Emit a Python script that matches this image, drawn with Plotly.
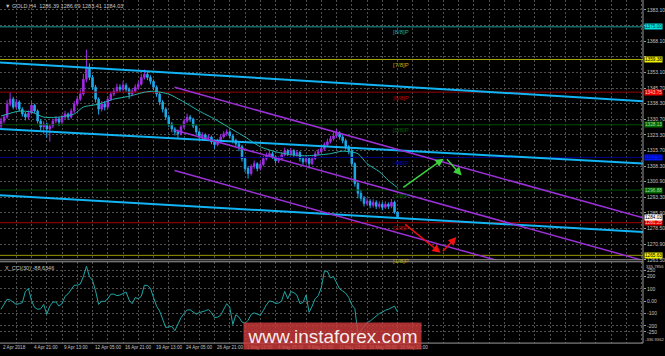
import plotly.graph_objects as go

# ---------------- data ----------------
bars = list(range(131))
opens = [1327.5, 1329.9, 1331.8, 1338.0, 1340.4, 1336.6, 1339.0, 1335.6, 1333.3, 1331.8,
 1333.7, 1337.5, 1334.7, 1329.9, 1327.1, 1328.5, 1326.1, 1327.5, 1329.9, 1330.9,
 1329.4, 1331.8, 1333.3, 1331.8, 1334.7, 1338.0, 1340.4, 1342.8, 1349.9, 1355.6,
 1350.8, 1346.1, 1340.4, 1335.6, 1338.0, 1336.6, 1340.4, 1342.8, 1344.2, 1346.1,
 1345.1, 1347.0, 1345.1, 1342.8, 1344.2, 1346.1, 1347.5, 1350.8, 1352.3, 1350.8,
 1348.9, 1346.1, 1342.8, 1339.0, 1335.6, 1331.8, 1328.5, 1326.1, 1324.7, 1323.8,
 1327.1, 1329.9, 1331.8, 1330.9, 1327.5, 1324.7, 1322.3, 1323.3, 1321.9, 1322.3,
 1320.0, 1318.6, 1320.5, 1322.3, 1323.8, 1324.7, 1322.8, 1320.5, 1319.0, 1317.6,
 1311.9, 1307.2, 1304.8, 1308.1, 1309.5, 1307.2, 1309.1, 1311.9, 1313.3, 1314.3,
 1312.8, 1310.9, 1311.9, 1313.8, 1315.7, 1314.3, 1315.7, 1313.8, 1314.8, 1311.9,
 1310.4, 1311.9, 1309.5, 1311.9, 1314.3, 1315.2, 1316.7, 1318.6, 1320.0, 1321.4,
 1322.8, 1324.3, 1322.3, 1320.5, 1317.6, 1315.7, 1309.5, 1300.0, 1295.3, 1292.9,
 1290.5, 1291.5, 1289.6, 1291.0, 1289.1, 1290.1, 1288.6, 1290.1, 1289.1, 1291.0,
 1286.39]
highs = [1331.5, 1333.0, 1340.0, 1343.7, 1341.5, 1340.5, 1339.8, 1336.5, 1334.2, 1335.0,
 1339.3, 1338.2, 1335.5, 1330.8, 1329.8, 1329.2, 1328.6, 1331.0, 1332.2, 1331.8,
 1333.0, 1334.8, 1334.0, 1336.0, 1339.5, 1342.0, 1345.0, 1352.5, 1364.1, 1357.5,
 1352.0, 1347.2, 1341.2, 1339.5, 1339.4, 1341.8, 1344.0, 1345.8, 1347.8, 1347.5,
 1348.8, 1348.0, 1346.0, 1345.5, 1347.5, 1349.0, 1352.5, 1354.6, 1353.5, 1351.8,
 1349.8, 1347.0, 1343.8, 1340.0, 1336.5, 1332.8, 1329.5, 1327.0, 1325.8, 1328.2,
 1331.0, 1333.5, 1332.8, 1331.5, 1328.3, 1325.5, 1324.5, 1324.0, 1323.5, 1323.0,
 1321.0, 1321.5, 1323.5, 1325.0, 1326.0, 1325.5, 1323.5, 1321.5, 1320.0, 1318.5,
 1312.8, 1308.2, 1309.2, 1311.0, 1310.2, 1310.5, 1313.2, 1314.8, 1315.8, 1315.2,
 1313.5, 1313.0, 1315.0, 1317.2, 1316.5, 1317.0, 1316.5, 1316.0, 1315.5, 1312.8,
 1313.0, 1312.5, 1313.0, 1315.5, 1316.5, 1318.0, 1319.8, 1321.5, 1322.8, 1324.5,
 1326.1, 1325.0, 1323.2, 1321.5, 1318.5, 1316.5, 1310.2, 1301.0, 1297.0, 1294.0,
 1293.0, 1292.5, 1292.5, 1292.0, 1291.5, 1291.2, 1291.5, 1291.0, 1292.6, 1291.8,
 1286.69]
lows = [1326.0, 1328.8, 1331.0, 1337.0, 1335.5, 1335.8, 1334.5, 1332.0, 1330.2, 1330.8,
 1333.0, 1333.8, 1328.8, 1325.5, 1323.8, 1322.0, 1320.0, 1326.5, 1328.8, 1327.5,
 1328.5, 1330.8, 1330.5, 1331.0, 1333.8, 1337.0, 1339.5, 1342.0, 1348.5, 1349.5,
 1344.8, 1338.8, 1333.0, 1334.5, 1335.0, 1335.8, 1339.5, 1341.8, 1343.2, 1343.8,
 1344.0, 1343.8, 1340.5, 1341.8, 1343.5, 1345.0, 1346.8, 1349.8, 1349.5, 1347.5,
 1344.8, 1341.5, 1337.5, 1334.0, 1330.5, 1327.0, 1324.5, 1323.0, 1321.4, 1323.0,
 1326.2, 1329.0, 1329.5, 1326.5, 1323.5, 1321.0, 1321.2, 1320.8, 1320.5, 1318.8,
 1316.7, 1317.8, 1319.5, 1321.5, 1322.8, 1321.5, 1319.2, 1317.8, 1315.5, 1310.5,
 1305.5, 1302.4, 1303.8, 1307.0, 1305.8, 1306.2, 1308.2, 1311.0, 1312.5, 1311.8,
 1309.5, 1309.8, 1311.0, 1313.0, 1313.2, 1313.5, 1312.8, 1312.8, 1310.5, 1309.0,
 1309.5, 1307.2, 1308.8, 1311.2, 1313.5, 1314.5, 1315.8, 1317.8, 1319.2, 1320.5,
 1321.8, 1321.0, 1319.2, 1316.2, 1314.0, 1308.0, 1298.5, 1292.9, 1291.5, 1289.0,
 1289.5, 1288.2, 1288.5, 1287.8, 1288.0, 1287.2, 1287.8, 1287.8, 1288.2, 1285.5,
 1283.41]
closes = [1329.9, 1331.8, 1338.0, 1340.4, 1336.6, 1339.0, 1335.6, 1333.3, 1331.8, 1333.7,
 1337.5, 1334.7, 1329.9, 1327.1, 1328.5, 1326.1, 1327.5, 1329.9, 1330.9, 1329.4,
 1331.8, 1333.3, 1331.8, 1334.7, 1338.0, 1340.4, 1342.8, 1349.9, 1355.6, 1350.8,
 1346.1, 1340.4, 1335.6, 1338.0, 1336.6, 1340.4, 1342.8, 1344.2, 1346.1, 1345.1,
 1347.0, 1345.1, 1342.8, 1344.2, 1346.1, 1347.5, 1350.8, 1352.3, 1350.8, 1348.9,
 1346.1, 1342.8, 1339.0, 1335.6, 1331.8, 1328.5, 1326.1, 1324.7, 1323.8, 1327.1,
 1329.9, 1331.8, 1330.9, 1327.5, 1324.7, 1322.3, 1323.3, 1321.9, 1322.3, 1320.0,
 1318.6, 1320.5, 1322.3, 1323.8, 1324.7, 1322.8, 1320.5, 1319.0, 1317.6, 1311.9,
 1307.2, 1304.8, 1308.1, 1309.5, 1307.2, 1309.1, 1311.9, 1313.3, 1314.3, 1312.8,
 1310.9, 1311.9, 1313.8, 1315.7, 1314.3, 1315.7, 1313.8, 1314.8, 1311.9, 1310.4,
 1311.9, 1309.5, 1311.9, 1314.3, 1315.2, 1316.7, 1318.6, 1320.0, 1321.4, 1322.8,
 1324.3, 1322.3, 1320.5, 1317.6, 1315.7, 1309.5, 1300.0, 1295.3, 1292.9, 1290.5,
 1291.5, 1289.6, 1291.0, 1289.1, 1290.1, 1288.6, 1290.1, 1289.1, 1291.0, 1286.4,
 1284.03]

ma_bars = [0, 6, 10, 14, 19, 24, 27, 32, 37, 42, 47, 50, 55, 60, 65, 70, 75, 80, 85, 90,
           95, 100, 105, 108, 112, 117, 120, 124, 127, 130]
ma_vals = [1332.3, 1334.7, 1334.2, 1331.8, 1331.8, 1333.3, 1336.6, 1338.0, 1340.4, 1341.8,
           1343.7, 1344.2, 1342.8, 1339.0, 1334.7, 1330.9, 1326.6, 1322.3, 1317.6, 1315.2,
           1313.8, 1313.3, 1313.8, 1314.3, 1315.5, 1314.3, 1309.5, 1305.7, 1301.5, 1298.0]

cci_vals = [-66, -20, 15, 10, -5, -26, -20, -12, 80, 103,
 5, -50, -66, -62, -26, -106, -40, -8, -6, -40,
 -20, 40, 60, 100, 130, 130, 140, 200, 284, 200,
 170, 85, -26, 0, -2, 20, 57, 58, 45, 50,
 65, 75, 10, -20, 30, 20, 40, 130, 128, 105,
 30, -40, -80, -150, -214, -210, -205, -240, -180, -135,
 -100, -72, -70, -85, -106, -93, -88, -78, -68, -95,
 -133, -130, -115, -70, -20, -50, -190, -110, -130, -170,
 -180, -155, -108, -95, -105, -115, -75, -30, 2, -3,
 -18, -15, 2, 80, 20, 78, 70, 50, -20, -10,
 50, -90, -40, 20, 45, 110, 244, 244, 190, 200,
 150, 100, 84, 65, 30, -30, -60, -268, -235, -205,
 -173, -162, -140, -118, -100, -90, -74, -66, -55, -40,
 -88.6346]

time_label_bars = [0, 10, 20, 30, 40, 50, 60, 70, 80, 90, 100, 110, 120, 130]
time_labels = ["2 Apr 2018", "4 Apr 21:00", "9 Apr 13:00", "12 Apr 05:00", "16 Apr 21:00",
               "19 Apr 13:00", "24 Apr 05:00", "26 Apr 21:00", "1 May 13:00", "4 May 05:00",
               "8 May 21:00", "11 May 13:00", "16 May 05:00", "18 May 21:00"]

price_ticks = [1383.10, 1375.70, 1368.10, 1360.70, 1353.10, 1345.70, 1338.30, 1330.70, 1323.30,
               1315.70, 1308.30, 1300.90, 1293.30, 1285.90, 1278.50, 1270.90, 1263.50]
# labels of 1375.70 and 1360.70 are hidden under the level boxes in the reference
price_tick_text = ["1383.10", "", "1368.10", "", "1353.10", "1345.70", "1338.30", "1330.70", "1323.30",
                   "1315.70", "1308.30", "1300.90", "1293.30", "1285.90", "1278.50", "1270.90", "1263.50"]
cci_ticks = [250, 200, 100, 0, -100, -200, -250]
cci_tick_text = ["250", "200", "100", "0.00", "-100", "-200", "-250"]
cci_max_label = "335.7856"
cci_min_label = "-336.9362"

mm_names = ["[8/8]P", "[7/8]P", "[6/8]P", "[5/8]P", "[4/8]P", "[3/8]P", "[2/8]P", "[1/8]P"]
mm_prices = [1375.00, 1359.38, 1343.75, 1328.13, 1312.50, 1296.88, 1281.25, 1265.63]
bid_price = 1284.03

# drawn objects (bar index, price)
blue_x0 = [-0.33, -0.33, -0.33]
blue_p0 = [1357.95, 1326.15, 1294.35]
blue_x1 = [210.46, 210.46, 210.46]
blue_p1 = [1339.44, 1309.54, 1276.79]
purple_x0 = [56.9, 56.9, 56.9]
purple_p0 = [1346.08, 1325.67, 1306.21]
purple_x1 = [210.46, 210.46, 210.46]
purple_p1 = [1283.62, 1263.2, 1243.76]
green_arrows = [(131.4, 1297.67, 145.1, 1311.9), (145.75, 1312.38, 151.0, 1303.84)]
red_arrows = [(132.0, 1281.06, 144.1, 1266.82), (144.4, 1266.82, 149.3, 1274.42)]

# ---------------- style ----------------
W, H = 665, 356
PLOT_W = 645
PX = 3.06
X_LO, X_HI = -1 / PX, (PLOT_W - 1) / PX
BG = "#000000"
GRID = "#4f4f4f"
TXT = "#c4c4c4"
FONT = "Liberation Sans, Arial"
VIOLET = "#A12BE6"
CYAN = "#1EAAEB"
BLUE_LINE = "#12B4F4"
PURPLE = "#9B30D8"
mm_line_colors = ["#1C9C9C", "#A8A800", "#9A0000", "#004E00", "#00008C", "#004E00", "#A80000", "#9A9A00"]
mm_text_colors = ["#20A8A8", "#B4B400", "#C00000", "#006000", "#0000C8", "#006000", "#C00000", "#B0B000"]
mm_box_bg = ["#00E0E0", "#F0F000", "#E80000", "#006A00", "#0018FF", "#006A00", "#E80000", "#F0F000"]
mm_box_fg = ["#003838", "#000000", "#FFC0C0", "#A0D8A0", "#000070", "#A0D8A0", "#FFC0C0", "#000000"]

main_dom = [1 - 262 / H, 1]
cci_dom = [10 / H, 92 / H]

fig = go.Figure()

# Murrey level lines
for p, col in zip(mm_prices, mm_line_colors):
    fig.add_trace(go.Scatter(x=[X_LO, X_HI], y=[p, p], mode="lines",
                             line=dict(color=col, width=1), hoverinfo="skip",
                             xaxis="x", yaxis="y", showlegend=False))

# candles
fig.add_trace(go.Candlestick(
    x=bars, open=opens, high=highs, low=lows, close=closes,
    increasing=dict(line=dict(color=VIOLET, width=1), fillcolor=VIOLET),
    decreasing=dict(line=dict(color=CYAN, width=1), fillcolor=CYAN),
    whiskerwidth=0, xaxis="x", yaxis="y", showlegend=False, hoverinfo="skip"))

# moving average
fig.add_trace(go.Scatter(x=ma_bars, y=ma_vals, mode="lines",
                         line=dict(color="#22B8B0", width=1, shape="spline", smoothing=0.6),
                         xaxis="x", yaxis="y", showlegend=False, hoverinfo="skip"))

# channel lines
for x0, p0, x1, p1 in zip(blue_x0, blue_p0, blue_x1, blue_p1):
    fig.add_trace(go.Scatter(x=[x0, x1], y=[p0, p1], mode="lines",
                             line=dict(color=BLUE_LINE, width=2),
                             xaxis="x", yaxis="y", showlegend=False, hoverinfo="skip"))
for x0, p0, x1, p1 in zip(purple_x0, purple_p0, purple_x1, purple_p1):
    fig.add_trace(go.Scatter(x=[x0, x1], y=[p0, p1], mode="lines",
                             line=dict(color=PURPLE, width=1.5),
                             xaxis="x", yaxis="y", showlegend=False, hoverinfo="skip"))

# CCI
fig.add_trace(go.Scatter(x=bars, y=cci_vals, mode="lines",
                         line=dict(color="#1FA7A7", width=1),
                         xaxis="x2", yaxis="y2", showlegend=False, hoverinfo="skip"))

annotations = []
# arrows
for (ax0, ap0, hx, hp), col in [(a, "#3CD23C") for a in green_arrows] + [(a, "#F01010") for a in red_arrows]:
    annotations.append(dict(x=hx, y=hp, ax=ax0, ay=ap0, xref="x", yref="y", axref="x", ayref="y",
                            text="", showarrow=True, arrowhead=2, arrowsize=1.1, arrowwidth=1.5,
                            arrowcolor=col, standoff=0, startstandoff=0))
# Murrey text labels
for name, p, col in zip(mm_names, mm_prices, mm_text_colors):
    annotations.append(dict(x=127.8, y=p, xref="x", yref="y", text=name, showarrow=False,
                            xanchor="left", yanchor="top", yshift=-0.5,
                            font=dict(family=FONT, size=6, color=col)))
# right price boxes
for p, bg, fg in zip(mm_prices, mm_box_bg, mm_box_fg):
    annotations.append(dict(x=1, y=p, xref="paper", yref="y", text=f"{p:.2f}", showarrow=False,
                            xanchor="left", yanchor="middle", xshift=1, bgcolor=bg, borderpad=0,
                            font=dict(family=FONT, size=4.7, color=fg)))
annotations.append(dict(x=1, y=bid_price, xref="paper", yref="y", text=f"{bid_price:.2f}",
                        showarrow=False, xanchor="left", yanchor="middle", xshift=1, yshift=-0.5,
                        bgcolor="#FFFFFF", borderpad=0, font=dict(family=FONT, size=4.7, color="#000000")))
# header
annotations.append(dict(x=0, y=1, xref="paper", yref="paper", xanchor="left", yanchor="top",
                        xshift=3, yshift=-1, showarrow=False,
                        text=f"▼ GOLD,H4  {opens[-1]:.2f} {highs[-1]:.2f} {lows[-1]:.2f} {closes[-1]:.2f}",
                        font=dict(family=FONT, size=5.5, color=TXT)))
# CCI caption and extremes
annotations.append(dict(x=0, y=cci_dom[1], xref="paper", yref="paper", xanchor="left", yanchor="top",
                        xshift=3, yshift=-1, showarrow=False,
                        text=f"X_CCI(30) {cci_vals[-1]:.4f}",
                        font=dict(family=FONT, size=5.5, color=TXT)))
annotations.append(dict(x=1, y=cci_dom[1], xref="paper", yref="paper", xanchor="left", yanchor="top",
                        xshift=1, yshift=0, showarrow=False, text=cci_max_label,
                        font=dict(family=FONT, size=4.2, color=TXT)))
annotations.append(dict(x=1, y=cci_dom[0], xref="paper", yref="paper", xanchor="left", yanchor="bottom",
                        xshift=0, yshift=-1, showarrow=False, text=cci_min_label,
                        font=dict(family=FONT, size=4.2, color=TXT)))
# time labels
for b, t in zip(time_label_bars, time_labels):
    annotations.append(dict(x=b, y=5.5 / H, xref="x", yref="paper", xanchor="left", yanchor="middle",
                            xshift=0, showarrow=False, text=t,
                            font=dict(family=FONT, size=4.6, color=TXT)))
# watermark: translucent red box drawn over the time labels, with its text
annotations.append(dict(x=333.5 / PLOT_W, y=(H - 339) / H, xref="paper", yref="paper",
                        xanchor="center", yanchor="middle", showarrow=False,
                        width=177, height=26, valign="middle", align="center",
                        bgcolor="rgba(206,58,58,0.82)", borderpad=0,
                        text="www.instaforex.com",
                        font=dict(family="Liberation Sans, Arial", size=19, color="rgba(255,255,255,0.93)")))

shapes = [
    dict(type="line", xref="paper", yref="paper", x0=1, x1=1, y0=cci_dom[0], y1=1,
         line=dict(color="#9a9a9a", width=1)),
    dict(type="line", xref="paper", yref="paper", x0=0, x1=1, y0=main_dom[0], y1=main_dom[0],
         line=dict(color="#9a9a9a", width=1)),
    dict(type="line", xref="paper", yref="paper", x0=0, x1=1, y0=cci_dom[1], y1=cci_dom[1],
         line=dict(color="#9a9a9a", width=1)),
    dict(type="line", xref="paper", yref="paper", x0=0, x1=1, y0=cci_dom[0], y1=cci_dom[0],
         line=dict(color="#9a9a9a", width=1)),
]

grid_ticks = list(range(0, 211, 5))
xaxis_common = dict(range=[X_LO, X_HI], tickvals=grid_ticks, showticklabels=False, showgrid=True,
                    gridcolor=GRID, griddash="2px,2px", gridwidth=1, zeroline=False,
                    showline=False, ticks="", fixedrange=True)

fig.update_layout(
    width=W, height=H, margin=dict(l=0, r=W - PLOT_W, t=0, b=0),
    paper_bgcolor=BG, plot_bgcolor=BG, showlegend=False,
    xaxis=dict(domain=[0, 1], anchor="y", rangeslider=dict(visible=False), **xaxis_common),
    xaxis2=dict(domain=[0, 1], anchor="y2", matches="x", **xaxis_common),
    yaxis=dict(domain=main_dom, anchor="x", side="right", range=[1263.5, 1387.85],
               tickvals=price_ticks, ticktext=price_tick_text,
               tickfont=dict(family=FONT, size=5, color=TXT), ticks="outside", ticklen=2,
               tickcolor="#9a9a9a", showgrid=True, gridcolor=GRID, griddash="2px,2px",
               zeroline=False, showline=False, fixedrange=True),
    yaxis2=dict(domain=cci_dom, anchor="x2", side="right", range=[-341, 321],
                tickvals=cci_ticks, ticktext=cci_tick_text,
                tickfont=dict(family=FONT, size=5, color=TXT), ticks="outside", ticklen=2,
                tickcolor="#9a9a9a", showgrid=True, gridcolor=GRID, griddash="2px,2px",
                zeroline=False, showline=False, fixedrange=True),
    annotations=annotations, shapes=shapes,
)

fig.write_html("out.html")
